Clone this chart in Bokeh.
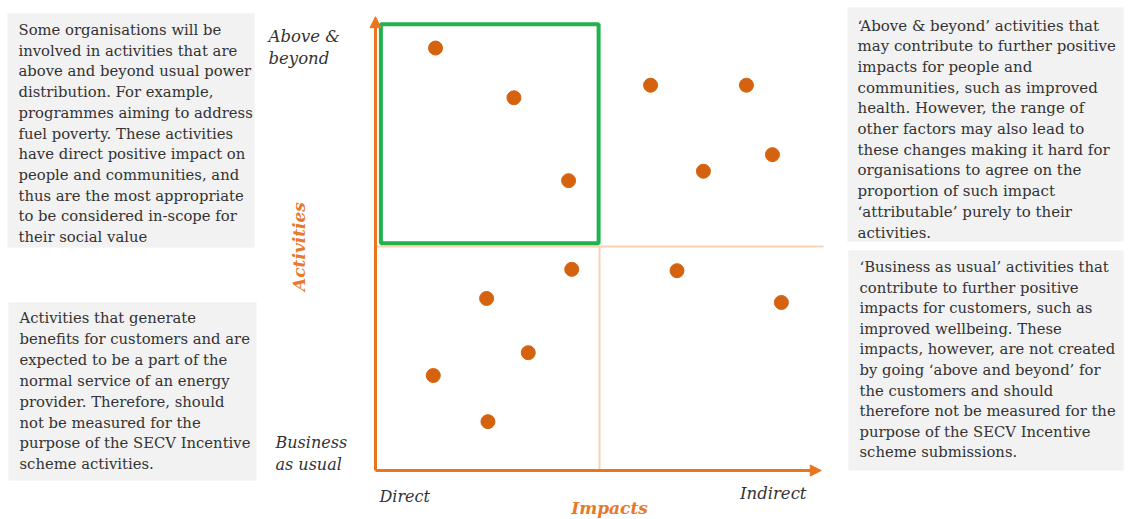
import numpy as np
from bokeh.plotting import figure
from bokeh.models import Range1d, Arrow, NormalHead
from bokeh.core.properties import value
from bokeh.embed import file_html
from bokeh.resources import INLINE

# ---------------- data ----------------
impacts = [1.34, 3.09, 4.31, 6.14, 8.28, 7.32, 8.86, 4.38, 2.48, 6.73, 9.06, 3.41, 1.29, 2.51]
activities = [9.43, 8.32, 6.47, 8.60, 8.60, 6.68, 7.05, 4.49, 3.84, 4.46, 3.75, 2.63, 2.12, 1.09]
MID = 5.0
x_tick_labels = ["Direct", "Indirect"]
y_tick_top = ["Above &", "beyond"]
y_tick_bottom = ["Business", "as usual"]
x_title = "Impacts"
y_title = "Activities"

text_top_left = [
    "Some organisations will be",
    "involved in activities that are",
    "above and beyond usual power",
    "distribution. For example,",
    "programmes aiming to address",
    "fuel poverty. These activities",
    "have direct positive impact on",
    "people and communities, and",
    "thus are the most appropriate",
    "to be considered in-scope for",
    "their social value",
]
text_bottom_left = [
    "Activities that generate",
    "benefits for customers and are",
    "expected to be a part of the",
    "normal service of an energy",
    "provider. Therefore, should",
    "not be measured for the",
    "purpose of the SECV Incentive",
    "scheme activities.",
]
text_top_right = [
    "\u2018Above & beyond\u2019 activities that",
    "may contribute to further  positive",
    "impacts for people and",
    "communities, such as improved",
    "health. However, the range of",
    "other factors may also lead to",
    "these changes making it hard for",
    "organisations to agree on the",
    "proportion of such impact",
    "\u2018attributable\u2019 purely to their",
    "activities.",
]
text_bottom_right = [
    "\u2018Business as usual\u2019 activities that",
    "contribute to further positive",
    "impacts for customers, such as",
    "improved wellbeing. These",
    "impacts, however, are not created",
    "by going \u2018above and beyond\u2019 for",
    "the customers and should",
    "therefore not be measured for the",
    "purpose of the SECV Incentive",
    "scheme submissions.",
]

# ---------------- styling ----------------
W, H = 1130, 519
ORANGE_DOT = "#d5620f"
ORANGE_AX = "#e8761e"
ORANGE_MID = "#fbd3b3"
ORANGE_LBL = "#e8792b"
GREEN = "#1fb24f"
BOX = "#f2f2f2"
TXT = "#333333"
SERIF = value("DejaVu Serif")

# picture-pixel -> data helpers (layout only)
def X(px):
    return (px - 375) / 44.8

def Y(py):
    return (470 - py) / 44.8

p = figure(width=W, height=H,
           x_range=Range1d(X(0), X(W)), y_range=Range1d(Y(H), Y(0)),
           min_border=0, x_axis_location=None, y_axis_location=None,
           toolbar_location=None, output_backend="svg")
p.outline_line_color = None
p.grid.visible = False
p.min_border_left = p.min_border_right = p.min_border_top = p.min_border_bottom = 0

# text boxes
p.quad(left=[X(7), X(8), X(847), X(848)],
       right=[X(254), X(256), X(1123), X(1123)],
       top=[Y(13), Y(302), Y(7), Y(250)],
       bottom=[Y(247), Y(480), Y(241), Y(470)],
       fill_color=BOX, line_color="#f7f7f7", line_width=1)

def add_lines(lines, px, base, step, size):
    p.text(x=[X(px)] * len(lines),
           y=[Y(base + i * step) for i in range(len(lines))],
           text=lines, text_font=SERIF, text_font_size=size,
           text_color=TXT, text_align="left", text_baseline="alphabetic")

add_lines(text_top_left, 18, 29, 20.7, "14.8px")
add_lines(text_bottom_left, 19, 317, 20.9, "14.8px")
add_lines(text_top_right, 857, 25, 20.7, "15px")
add_lines(text_bottom_right, 859, 266, 20.6, "14.8px")

# quadrant lines
p.segment(x0=[MID, 0], y0=[0, MID], x1=[MID, 2 * MID], y1=[MID, MID],
          line_color=ORANGE_MID, line_width=2)

# highlighted quadrant
p.quad(left=[0.12], right=[MID - 0.02], bottom=[MID + 0.07], top=[9.96],
       fill_color=None, line_color=GREEN, line_width=4)

# axes with arrows
p.add_layout(Arrow(end=NormalHead(size=11, fill_color=ORANGE_AX, line_color=ORANGE_AX),
                   x_start=0, y_start=0, x_end=0, y_end=10.13,
                   line_color=ORANGE_AX, line_width=3))
p.add_layout(Arrow(end=NormalHead(size=11, fill_color=ORANGE_AX, line_color=ORANGE_AX),
                   x_start=0, y_start=0, x_end=9.95, y_end=0,
                   line_color=ORANGE_AX, line_width=3))

# points
p.scatter(impacts, activities, size=14, color=ORANGE_DOT)

# axis end labels
p.text(x=[X(268)] * 2, y=[Y(36), Y(58)], text=y_tick_top, text_font=SERIF,
       text_font_style="italic", text_font_size="16.5px", text_color=TXT,
       text_baseline="alphabetic")
p.text(x=[X(275)] * 2, y=[Y(442), Y(464)], text=y_tick_bottom, text_font=SERIF,
       text_font_style="italic", text_font_size="16px", text_color=TXT,
       text_baseline="alphabetic")
p.text(x=[X(379)], y=[Y(496)], text=[x_tick_labels[0]], text_font=SERIF,
       text_font_style="italic", text_font_size="16px", text_color=TXT,
       text_baseline="alphabetic", text_align="left")
p.text(x=[X(806)], y=[Y(493)], text=[x_tick_labels[1]], text_font=SERIF,
       text_font_style="italic", text_font_size="16.5px", text_color=TXT,
       text_baseline="alphabetic", text_align="right")

# axis titles
p.text(x=[X(609)], y=[Y(507)], text=[x_title], text_font=SERIF,
       text_font_style="bold italic", text_font_size="17px", text_color=ORANGE_LBL,
       text_baseline="alphabetic", text_align="center")
p.text(x=[X(298)], y=[MID], text=[y_title], angle=np.pi / 2, text_font=SERIF,
       text_font_style="bold italic", text_font_size="17px", text_color=ORANGE_LBL,
       text_baseline="middle", text_align="center")

open("out.html", "w").write(file_html(p, INLINE))
